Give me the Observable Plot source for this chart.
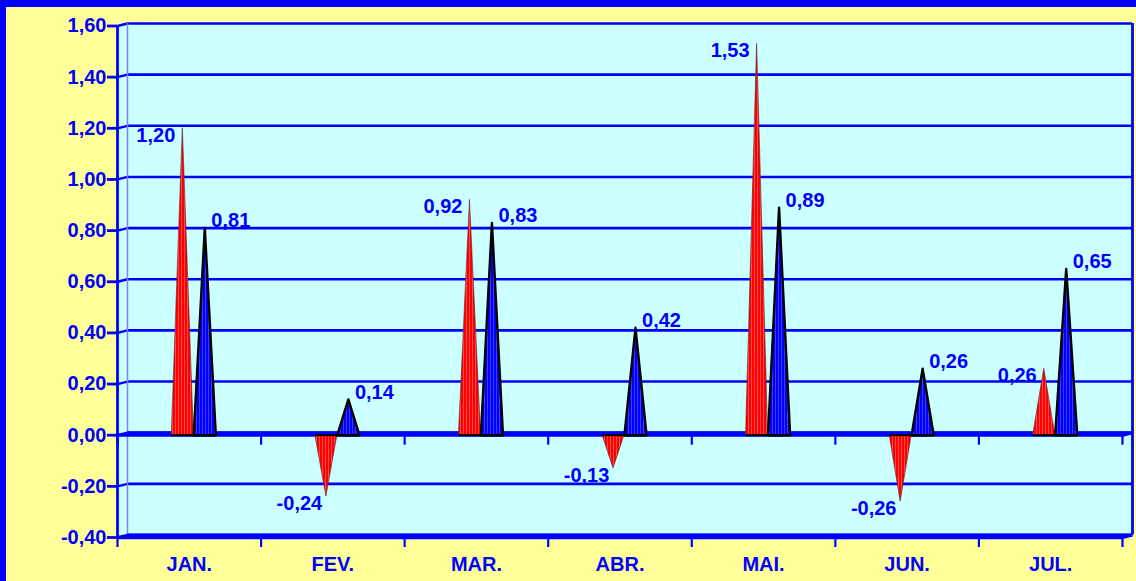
<!DOCTYPE html>
<html>
<head>
<meta charset="utf-8">
<script src="https://cdn.jsdelivr.net/npm/d3@7"></script>
<script src="https://cdn.jsdelivr.net/npm/@observablehq/plot@0.6"></script>
<style>
  html, body { margin: 0; padding: 0; background: #FFFF99; }
  #frame { position: relative; width: 1136px; height: 581px; background: #FFFF99; overflow: hidden; }
  #bTop { position: absolute; left: 0; top: 0; width: 1136px; height: 7px; background: #0000FF; }
  #bLeft { position: absolute; left: 0; top: 0; width: 6px; height: 581px; background: #0000FF; }
  #chart { position: absolute; left: 0; top: 0; }
</style>
</head>
<body>
<div id="frame">
  <div id="chart"></div>
  <div id="bTop"></div>
  <div id="bLeft"></div>
</div>
<script>
// ---- data ----
const months = ["JAN.", "FEV.", "MAR.", "ABR.", "MAI.", "JUN.", "JUL."];
const serieVermelha = [1.20, -0.24, 0.92, -0.13, 1.53, -0.26, 0.26];
const serieAzul = [0.81, 0.14, 0.83, 0.42, 0.89, 0.26, 0.65];
const yTicks = [-0.4, -0.2, 0, 0.2, 0.4, 0.6, 0.8, 1.0, 1.2, 1.4, 1.6];
const catBounds = [0, 1, 2, 3, 4, 5, 6, 7];

// ---- layout ----
const W = 1136, H = 581, mL = 117, mR = 14, mT = 25.5, mB = 44;
const pxPerCat = (W - mL - mR) / months.length;
const pxPerUnit = (H - mT - mB) / 2;
const DX = 10, DY = -2.5;
const depthX = DX / pxPerCat, depthY = -DY / pxPerUnit;
const OFF_R = -0.045, OFF_B = 0.108, HW = 0.077;
const BLUE = "#0000FF";
const fmt = d => d.toFixed(2).replace(".", ",");

function tri(values, off, key, closed) {
  return values.flatMap((v, i) => {
    const c = i + 0.5 + off;
    const pts = [
      {id: key + i, x: c - HW, y: 0},
      {id: key + i, x: c, y: v},
      {id: key + i, x: c + HW, y: 0}
    ];
    if (closed) pts.push({id: key + i, x: c - HW, y: 0});
    return pts;
  });
}
function bases(values, off) {
  return values.map((v, i) => ({x1: i + 0.5 + off - HW, x2: i + 0.5 + off + HW}));
}
const triR = tri(serieVermelha, OFF_R, "r", false);
const triB = tri(serieAzul, OFF_B, "b", false);
const triBClosed = tri(serieAzul, OFF_B, "b", true);

const plot = Plot.plot({
  width: W, height: H,
  marginLeft: mL, marginRight: mR, marginTop: mT, marginBottom: mB,
  x: {domain: [0, 7], axis: null},
  y: {domain: [-0.4, 1.6], axis: null},
  style: {background: "transparent", overflow: "visible", fontFamily: "'Liberation Sans', Arial, sans-serif"},
  marks: [
    // wall background
    Plot.rect([0], {x1: 0, x2: 7, y1: -0.4, y2: 1.6, fill: "#CCFFFF", insetRight: -DX, insetTop: DY}),
    // back gridlines
    Plot.ruleY(yTicks, {x1: 0, x2: 7, dx: DX, dy: DY, stroke: BLUE, strokeWidth: 2.6}),
    // diagonals front->back
    Plot.link(yTicks, {x1: 0, x2: depthX, y1: d => d, y2: d => d + depthY, stroke: BLUE, strokeWidth: 2.4}),
    Plot.link([-0.4, 0], {x1: 7, x2: 7 + depthX, y1: d => d, y2: d => d + depthY, stroke: BLUE, strokeWidth: 3}),
    // left wall back edge
    Plot.ruleX([0], {y1: -0.4, y2: 1.6, dx: DX, dy: DY, stroke: "#8080ff", strokeWidth: 1.5}),
    // right wall edge
    Plot.ruleX([7], {y1: -0.4, y2: 1.6, dx: DX, dy: DY, stroke: BLUE, strokeWidth: 2.8}),
    // zero floor
    Plot.ruleY([0], {x1: 0, x2: 7, dx: DX, dy: DY, stroke: BLUE, strokeWidth: 3}),
    Plot.ruleY([0], {x1: 0, x2: 7, stroke: BLUE, strokeWidth: 3}),
    // bottom floor
    Plot.ruleY([-0.4], {x1: 0, x2: 7, dx: DX, dy: DY, stroke: BLUE, strokeWidth: 3}),
    Plot.ruleY([-0.4], {x1: 0, x2: 7, stroke: BLUE, strokeWidth: 3.5}),
    // front y axis
    Plot.ruleX([0], {y1: -0.4, y2: 1.6, stroke: BLUE, strokeWidth: 2.8}),
    Plot.axisY({
      ticks: yTicks, tickFormat: fmt, anchor: "left", tickSize: 10, tickPadding: 1,
      fontSize: 20, fontWeight: "bold", color: BLUE, strokeWidth: 2.8, label: null
    }),
    // category ticks (zero line and bottom)
    Plot.ruleX(catBounds, {x: d => d, y1: 0, y2: 0, insetTop: -1, insetBottom: -10, stroke: BLUE, strokeWidth: 2.2}),
    Plot.ruleX(catBounds, {x: d => d, y1: -0.4, y2: -0.4, insetTop: -1, insetBottom: -10, stroke: BLUE, strokeWidth: 2.2}),
    // category labels
    Plot.text(months, {x: (d, i) => i + 0.5, y: -0.4, dy: 27, text: d => d,
      fontSize: 20, fontWeight: "bold", fill: BLUE}),
    // red pyramids
    Plot.areaY(triR, {x: "x", y: "y", z: "id", fill: "url(#stripesR)", stroke: "#552222", strokeWidth: 0.6}),
    // blue pyramids
    Plot.areaY(triB, {x: "x", y: "y", z: "id", fill: "url(#stripesB)"}),
    Plot.line(triBClosed, {x: "x", y: "y", z: "id", stroke: "black", strokeWidth: 2.4}),
    // base lines
    Plot.ruleY(bases(serieVermelha, OFF_R), {y: 0, x1: "x1", x2: "x2", stroke: "black", strokeWidth: 2}),
    Plot.ruleY(bases(serieAzul, OFF_B), {y: 0, x1: "x1", x2: "x2", stroke: "black", strokeWidth: 2}),
    // value labels
    Plot.text(serieVermelha, {x: (d, i) => i + 0.5 + OFF_R, y: d => d, text: fmt, dx: -27, dy: 7,
      fontSize: 20, fontWeight: "bold", fill: BLUE}),
    Plot.text(serieAzul, {x: (d, i) => i + 0.5 + OFF_B, y: d => d, text: fmt, dx: 26, dy: -7,
      fontSize: 20, fontWeight: "bold", fill: BLUE})
  ]
});

// stripe patterns
const defs = d3.select(plot).insert("defs", ":first-child");
function stripes(id, base, light) {
  const p = defs.append("pattern").attr("id", id).attr("patternUnits", "userSpaceOnUse")
    .attr("width", 3).attr("height", 10);
  p.append("rect").attr("width", 3).attr("height", 10).attr("fill", base);
  p.append("rect").attr("x", 1).attr("width", 1).attr("height", 10).attr("fill", light);
}
stripes("stripesR", "#FF0000", "#FF4A4A");
stripes("stripesB", "#0000FF", "#3C3CFF");

document.getElementById("chart").appendChild(plot);
</script>
</body>
</html>
